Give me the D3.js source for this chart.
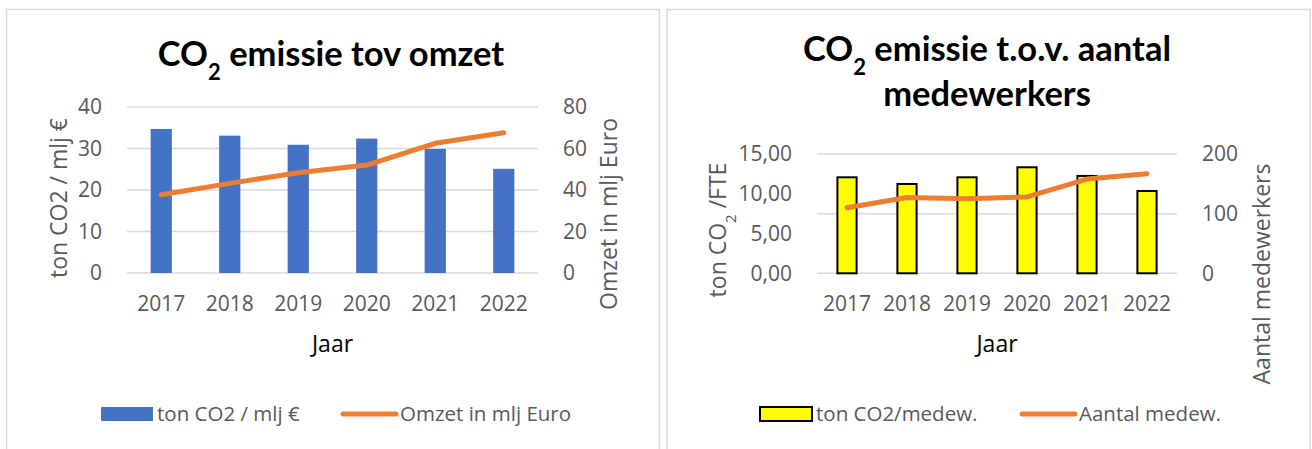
<!DOCTYPE html>
<html>
<head>
<meta charset="utf-8">
<script src="https://cdn.jsdelivr.net/npm/d3@7"></script>
<style>
    body { margin: 0; background: #fff; }
    svg { display: block; }
    text { font-family: 'Open Sans', sans-serif; }
</style>
</head>
<body>
<div id="main"></div>
<script>
var years = ['2017', '2018', '2019', '2020', '2021', '2022'];

// left chart
var co2PerOmzet = [34.7, 33.1, 30.9, 32.4, 29.9, 25.1];
var omzet = [37.7, 43.2, 48.3, 52.0, 62.5, 67.6];
var leftTicksA = [0, 10, 20, 30, 40];
var rightTicksA = [0, 20, 40, 60, 80];

// right chart
var co2PerFte = [12.07, 11.23, 12.07, 13.33, 12.24, 10.35];
var medewerkers = [110, 127, 125, 128, 158, 167];
var leftTicksB = [0, 5, 10, 15];
var rightTicksB = [0, 100, 200];

var tickColor = '#595959';
var gridColor = '#d9d9d9';
var orange = '#ed7d31';

var svg = d3.select('#main')
    .append('svg')
    .attr('width', 1312)
    .attr('height', 449);

function drawPanel(cfg){
    var g = svg.append('g');

    g.append('rect')
        .attr('x', cfg.box[0])
        .attr('y', cfg.box[1])
        .attr('width', cfg.box[2])
        .attr('height', cfg.box[3])
        .attr('fill', 'white')
        .attr('stroke', gridColor)
        .attr('stroke-width', 1.5);

    var x = d3.scaleBand()
        .domain(years)
        .range([cfg.plot.left, cfg.plot.right])
        .paddingInner(cfg.pad)
        .paddingOuter(cfg.pad / 2);
    var yL = d3.scaleLinear()
        .domain(d3.extent(cfg.leftTicks))
        .range([cfg.plot.bottom, cfg.plot.top]);
    var yR = d3.scaleLinear()
        .domain(d3.extent(cfg.rightTicks))
        .range([cfg.plot.bottom, cfg.plot.top]);

    // gridlines
    var gridScale = cfg.gridOn == 'right' ? yR : yL;
    var gridTicks = cfg.gridOn == 'right' ? cfg.rightTicks : cfg.leftTicks;
    g.append('g')
        .selectAll('line')
        .data(gridTicks)
        .enter()
        .append('line')
        .attr('x1', cfg.plot.left)
        .attr('x2', cfg.plot.right)
        .attr('y1', d => gridScale(d))
        .attr('y2', d => gridScale(d))
        .attr('stroke', gridColor)
        .attr('stroke-width', 1.5);

    // bars
    g.append('g')
        .selectAll('rect')
        .data(cfg.bars)
        .enter()
        .append('rect')
        .attr('x', (d, i) => x(years[i]))
        .attr('y', d => yL(d))
        .attr('width', x.bandwidth())
        .attr('height', d => cfg.plot.bottom - yL(d))
        .attr('fill', cfg.barFill)
        .attr('stroke', cfg.barStroke)
        .attr('stroke-width', cfg.barStroke == 'none' ? 0 : 2);

    // line
    var line = d3.line()
        .x((d, i) => x(years[i]) + x.bandwidth() / 2)
        .y(d => yR(d));
    g.append('path')
        .datum(cfg.line)
        .attr('d', line)
        .attr('fill', 'none')
        .attr('stroke', orange)
        .attr('stroke-width', 5)
        .attr('stroke-linecap', 'round')
        .attr('stroke-linejoin', 'round');

    // axes
    var axL = g.append('g')
        .attr('transform', 'translate(' + (cfg.plot.left - 22) + ',0)')
        .call(d3.axisLeft(yL).tickValues(cfg.leftTicks).tickSize(0).tickFormat(cfg.leftFormat));
    var axR = g.append('g')
        .attr('transform', 'translate(' + (cfg.plot.right + 22) + ',0)')
        .call(d3.axisRight(yR).tickValues(cfg.rightTicks).tickSize(0));
    var axX = g.append('g')
        .attr('transform', 'translate(0,' + (cfg.plot.bottom + 20) + ')')
        .call(d3.axisBottom(x).tickSize(0));
    [axL, axR, axX].forEach(function(ax){
        ax.select('.domain').remove();
        ax.selectAll('text')
            .attr('fill', tickColor)
            .style('font-size', '21px')
            .style('font-family', "'Open Sans', sans-serif");
    });
    axX.selectAll('text').attr('dy', '0.71em');

    // axis titles
    g.append('text')
        .attr('x', (cfg.plot.left + cfg.plot.right) / 2)
        .attr('y', cfg.jaarY)
        .attr('text-anchor', 'middle')
        .attr('fill', '#000')
        .style('font-size', '23px')
        .text('Jaar');

    var tl = g.append('text')
        .attr('transform', 'translate(' + cfg.leftTitle[0] + ',' + cfg.leftTitle[1] + ') rotate(-90)')
        .attr('text-anchor', 'middle')
        .attr('dy', '0.35em')
        .attr('fill', tickColor)
        .style('font-size', '23px');
    cfg.leftTitleParts.forEach(function(p){
        var t = tl.append('tspan').text(p[0]);
        if (p[1]) t.attr('baseline-shift', 'sub').style('font-size', '15px');
    });

    g.append('text')
        .attr('transform', 'translate(' + cfg.rightTitle[0] + ',' + cfg.rightTitle[1] + ') rotate(-90)')
        .attr('text-anchor', 'middle')
        .attr('dy', '0.35em')
        .attr('fill', tickColor)
        .style('font-size', '23px')
        .text(cfg.rightTitleText);

    // chart title
    cfg.title.forEach(function(ln, li){
        var t = g.append('text')
            .attr('x', cfg.titleX)
            .attr('y', cfg.titleY + li * 45)
            .attr('text-anchor', 'middle')
            .attr('fill', '#000')
            .style('font-family', "'Lato', sans-serif")
            .style('font-weight', 'bold')
            .style('font-size', '34.5px');
        ln.forEach(function(p){
            var s = t.append('tspan').text(p[0]);
            if (p[1]) s.attr('baseline-shift', 'sub').style('font-size', '22px');
        });
    });

    // legend
    var lg = g.append('g');
    lg.append('rect')
        .attr('x', cfg.legend[0])
        .attr('y', 407)
        .attr('width', 52)
        .attr('height', 14)
        .attr('fill', cfg.barFill)
        .attr('stroke', cfg.barStroke)
        .attr('stroke-width', cfg.barStroke == 'none' ? 0 : 2);
    lg.append('text')
        .attr('x', cfg.legend[0] + 56)
        .attr('y', 414)
        .attr('dy', '0.35em')
        .attr('fill', tickColor)
        .style('font-size', '20.5px')
        .text(cfg.legendText[0]);
    lg.append('line')
        .attr('x1', cfg.legend[1])
        .attr('x2', cfg.legend[1] + 53)
        .attr('y1', 414)
        .attr('y2', 414)
        .attr('stroke', orange)
        .attr('stroke-width', 5)
        .attr('stroke-linecap', 'round');
    lg.append('text')
        .attr('x', cfg.legend[1] + 57)
        .attr('y', 414)
        .attr('dy', '0.35em')
        .attr('fill', tickColor)
        .style('font-size', '20.5px')
        .text(cfg.legendText[1]);
}

drawPanel({
    box: [6.5, 9.5, 653, 460],
    plot: {left: 127, right: 538, top: 107, bottom: 273},
    pad: 0.69,
    leftTicks: leftTicksA,
    rightTicks: rightTicksA,
    gridOn: 'left',
    leftFormat: d3.format('d'),
    bars: co2PerOmzet,
    line: omzet,
    barFill: '#4472c4',
    barStroke: 'none',
    jaarY: 352,
    leftTitle: [59, 198],
    leftTitleParts: [['ton CO2 / mlj €']],
    rightTitle: [609, 214],
    rightTitleText: 'Omzet in mlj Euro',
    title: [[['CO'], ['2', true], [' emissie tov omzet']]],
    titleX: 331,
    titleY: 66,
    legend: [101, 343],
    legendText: ['ton CO2 / mlj €', 'Omzet in mlj Euro']
});

drawPanel({
    box: [667, 9.5, 643, 460],
    plot: {left: 817, right: 1177, top: 154, bottom: 273.3},
    pad: 0.68,
    leftTicks: leftTicksB,
    rightTicks: rightTicksB,
    gridOn: 'right',
    leftFormat: d => d3.format('.2f')(d).replace('.', ','),
    bars: co2PerFte,
    line: medewerkers,
    barFill: '#ffff00',
    barStroke: '#000',
    jaarY: 352,
    leftTitle: [718, 230],
    leftTitleParts: [['ton CO'], ['2', true], [' /FTE']],
    rightTitle: [1262, 274],
    rightTitleText: 'Aantal medewerkers',
    title: [[['CO'], ['2', true], [' emissie t.o.v. aantal']], [['medewerkers']]],
    titleX: 987,
    titleY: 61,
    legend: [760, 1022],
    legendText: ['ton CO2/medew.', 'Aantal medew.']
});
</script>
</body>
</html>
